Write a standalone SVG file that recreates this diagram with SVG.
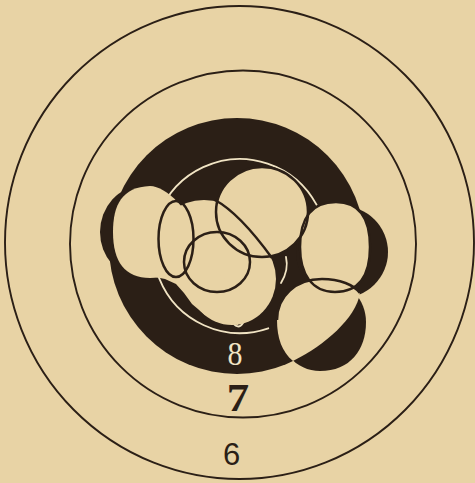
<svg xmlns="http://www.w3.org/2000/svg" width="475" height="483" viewBox="0 0 475 483">
<style>
.ink{fill:#2b1f16}
.paper{fill:#e8d3a5}
.ring{fill:none;stroke:#2b1f16;stroke-width:1.9}
.edge{fill:none;stroke:#2b1f16;stroke-width:2.5}
.white{fill:none;stroke:#f1e4c4;stroke-width:1.8;stroke-linecap:round}
.num{font-family:"Liberation Serif","Times New Roman",serif;text-anchor:middle}
</style>
<rect width="475" height="483" class="paper"/>
<g id="rings">
<ellipse cx="239.5" cy="242.5" rx="234.5" ry="236.5" class="ring"/>
<ellipse cx="243" cy="244" rx="173" ry="173.5" class="ring"/>
</g>
<g id="bull">
<circle cx="237" cy="246" r="128" class="ink"/>
<ellipse cx="142" cy="232" rx="42" ry="46" class="ink"/>
<ellipse cx="342" cy="252" rx="46" ry="46" class="ink"/>
<path d="M277,322 C277,300 295,280 322,280 C350,280 366,300 366,322 C366,350 350,371 320,371 C296,371 277,350 277,322 Z" class="ink"/>
<path d="M268.3,328.3 A87,87 0 1 1 316.8,205.2" class="white"/>
<path d="M233,323 Q238.5,330 243,323" class="white"/>
<path d="M286,257 Q289,270 281,283" class="white"/>
</g>
<g id="holes">
<path id="hole-left" d="M113,232 C113,205 122,187 150,186 C166,186 193,212 193,235 C193,262 175,278 150,278 C125,278 113,262 113,232 Z" class="paper"/>
<ellipse id="hole-mid" cx="204" cy="240" rx="46" ry="40" class="paper"/>
<ellipse id="hole-top" cx="262" cy="212" rx="46" ry="45" class="paper"/>
<ellipse id="hole-low" cx="232" cy="279" rx="44" ry="46" class="paper"/>
<polygon points="150,276 165,279 176,284 184,293 192,304 205,315 222,322 238,325 240,290 200,260 160,260" class="paper"/>
<path id="hole-right" d="M300,247 C300,218 312,202 336,202 C360,202 370,220 370,247 C370,274 360,292 335,292 C312,292 300,274 300,247 Z" class="paper"/>
<path id="hole-lowright" d="M293,361 C282,352 277,338 277,320 C277,296 296,279 322,279 C340,279 354,285 360,293 C356,318 325,345 293,361 Z" class="paper"/>
</g>
<g id="hole-edges">
<ellipse cx="262" cy="212" rx="46" ry="45" class="edge"/>
<path d="M300,247 C300,218 312,202 336,202 C360,202 370,220 370,247 C370,274 360,292 335,292 C312,292 300,274 300,247 Z" class="edge"/>
<path d="M277,320 C277,296 296,279 322,279 C340,279 354,285 360,293" class="edge"/>
<ellipse cx="176" cy="239" rx="17.5" ry="38" class="edge"/>
<ellipse cx="217" cy="262" rx="33" ry="30" class="edge"/>
<path d="M215,200 C228,207 248,225 272,258" class="edge"/>
</g>
<g id="labels">
<text class="num" transform="translate(235,365) scale(0.88,1)" font-size="34" fill="#f1e4c4">8</text>
<text class="num" transform="translate(238,411) scale(1.12,1)" font-size="40" font-weight="bold" fill="#2b1f16">7</text>
<text x="231.5" y="465" font-family="Liberation Sans, Arial, sans-serif" font-size="31" text-anchor="middle" fill="#2b1f16">6</text>
</g>
</svg>
